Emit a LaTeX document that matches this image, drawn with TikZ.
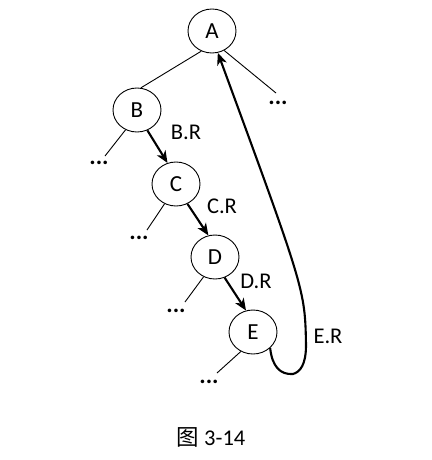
\documentclass[tikz,border=0pt]{standalone}
\usepackage{fontspec}
\setmainfont{Carlito}
\newfontfamily\cjk{Noto Sans CJK SC}
\usetikzlibrary{shapes.geometric,arrows.meta}
\begin{document}
\begin{tikzpicture}[x=1pt,y=-1pt,
  tnode/.style={draw,ellipse,line width=0.9pt,minimum width=48pt,minimum height=44pt,inner sep=0pt,font=\fontsize{23}{27}\selectfont},
  lbl/.style={inner sep=0pt,font=\fontsize{22.5}{27}\selectfont},
  dotsn/.style={inner sep=0pt,font=\fontsize{24}{27}\selectfont\bfseries},
  thin/.style={line width=0.9pt},
  thick/.style={line width=2.1pt,-{Stealth[length=12pt,width=10pt,inset=3.5pt]}}]
\useasboundingbox (0,0) rectangle (431,460);
\node[tnode] (A) at (212,31) {A};
\node[tnode] (B) at (137,110) {B};
\node[tnode] (C) at (176,184) {C};
\node[tnode] (D) at (215,257) {D};
\node[tnode] (E) at (253,332) {E};
\node[dotsn] (dA) at (278,103) {...};
\node[dotsn] (dB) at (99,163) {...};
\node[dotsn] (dC) at (139,238) {...};
\node[dotsn] (dD) at (176,311) {...};
\node[dotsn] (dE) at (209,382) {...};
\coordinate (eA) at (276,93);
\coordinate (eB) at (105,156);
\coordinate (eC) at (147,230);
\coordinate (eD) at (185,302);
\coordinate (eE) at (217,373);
\node[lbl] (lB) at (186,132) {B.R};
\node[lbl] (lC) at (222,206) {C.R};
\node[lbl] (lD) at (256,281) {D.R};
\node[lbl] (lE) at (328,336) {E.R};
\node[lbl] (cap) at (211,437) {{\cjk 图} 3-14};
\draw[thin] (A.242) -- (B.80);
\draw[thin] (A.302) -- (eA);
\draw[thin] (B.240) -- (eB);
\draw[thin] (C.240) -- (eC);
\draw[thin] (D.240) -- (eD);
\draw[thin] (E.238) -- (eE);
\draw[thick] (B.297) -- (C.112);
\draw[thick] (C.300) -- (D.107);
\draw[thick] (D.295) -- (E.108);
\draw[thick] (E.317) .. controls (272,366) and (280,375) .. (293,374)
  .. controls (300,372) and (306,365) .. (306,345)
  .. controls (305,290) .. (A.285);
\end{tikzpicture}
\end{document}
